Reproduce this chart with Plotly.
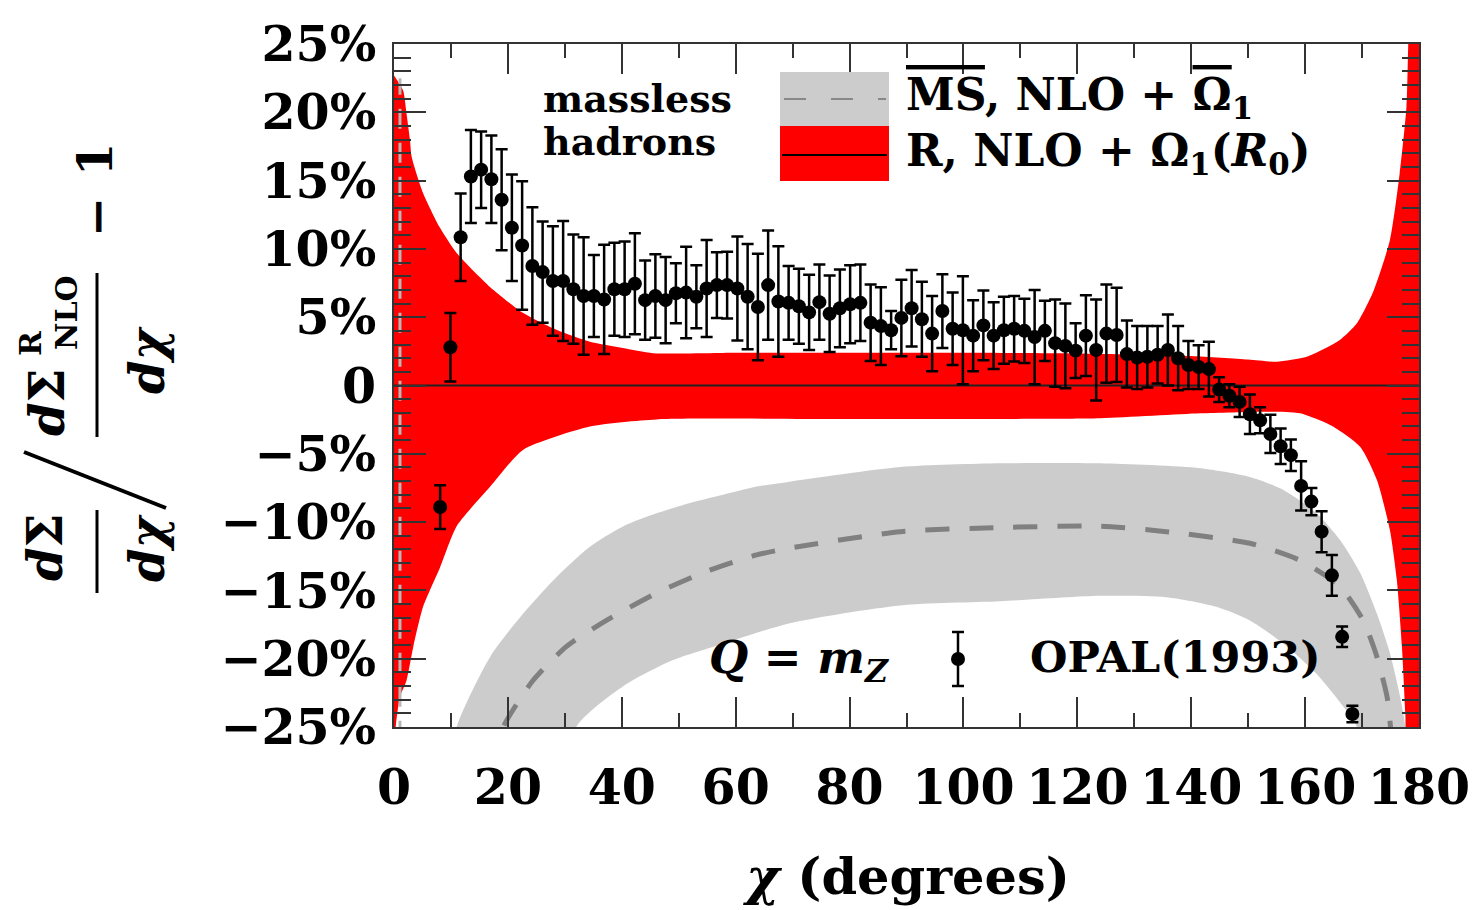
import plotly.graph_objects as go

# The page body has an 8px default margin; work in reference-pixel coordinates
OFF = 8
W, H = 1476 - OFF, 910 - OFF
L, R, T, B = 394, 1419, 44, 727   # plot area in reference pixels

def px(x):
    return (x - L) / (R - L)

def py(y):
    return (B - y) / (B - T)

# ---------------- data ----------------
chi = [8.1, 9.9, 11.7, 13.5, 15.3, 17.1, 18.9, 20.7, 22.5, 24.3,
       26.1, 27.9, 29.7, 31.5, 33.3, 35.1, 36.9, 38.7, 40.5, 42.3,
       44.1, 45.9, 47.7, 49.5, 51.3, 53.1, 54.9, 56.7, 58.5, 60.3,
       62.1, 63.9, 65.7, 67.5, 69.3, 71.1, 72.9, 74.7, 76.5, 78.3,
       80.1, 81.9, 83.7, 85.5, 87.3, 89.1, 90.9, 92.7, 94.5, 96.3,
       98.1, 99.9, 101.7, 103.5, 105.3, 107.1, 108.9, 110.7, 112.5, 114.3,
       116.1, 117.9, 119.7, 121.5, 123.3, 125.1, 126.9, 128.7, 130.5, 132.3,
       134.1, 135.9, 137.7, 139.5, 141.3, 143.1, 144.9, 146.7, 148.5, 150.3,
       152.1, 153.9, 155.7, 157.5, 159.3, 161.1, 162.9, 164.7, 166.5, 168.3]
opal = [-8.9, 2.8, 10.85, 15.3, 15.8, 15.1, 13.6, 11.55, 10.25, 8.75,
        8.3, 7.65, 7.65, 7.05, 6.55, 6.55, 6.3, 7.05, 7.05, 7.45,
        6.25, 6.55, 6.25, 6.75, 6.8, 6.5, 7.1, 7.35, 7.35, 7.1,
        6.5, 5.75, 7.35, 6.15, 6.05, 5.8, 5.35, 6.1, 5.25, 5.65,
        5.95, 6.05, 4.6, 4.35, 4.05, 4.95, 5.65, 4.85, 3.8, 5.45,
        4.15, 4.05, 3.65, 4.4, 3.65, 4.05, 4.15, 4.0, 3.55, 4.0,
        3.1, 2.9, 2.55, 3.65, 2.6, 3.8, 3.7, 2.3, 2.05, 2.1,
        2.25, 2.6, 2.0, 1.5, 1.35, 1.2, -0.3, -0.75, -1.2, -2.1,
        -2.55, -3.55, -4.45, -5.1, -7.35, -8.5, -10.7, -13.9, -18.4, -24.05]
opal_err = [1.6, 2.5, 3.2, 3.4, 2.8, 3.2, 3.7, 3.9, 4.7, 4.3,
            3.7, 4.0, 4.4, 4.0, 4.3, 3.0, 4.0, 3.4, 3.5, 3.7,
            2.9, 3.05, 3.15, 2.2, 3.35, 2.3, 3.55, 2.4, 2.45, 3.8,
            3.85, 3.9, 4.0, 4.05, 2.7, 2.75, 2.75, 2.75, 2.8, 2.85,
            2.85, 2.8, 2.8, 2.85, 1.4, 2.8, 2.8, 2.75, 2.75, 2.7,
            2.65, 3.95, 2.6, 2.55, 2.45, 2.45, 2.4, 2.35, 3.45, 2.2,
            3.2, 3.1, 2.0, 2.95, 3.7, 3.6, 3.45, 2.45, 2.3, 2.25,
            2.1, 2.6, 2.35, 1.75, 1.6, 2.0, 0.9, 0.85, 1.1, 1.45,
            0.95, 1.4, 1.3, 1.15, 1.8, 1.0, 1.5, 1.5, 0.75, 0.6]

# R-scheme band (NLO + Omega1(R0)), relative to R NLO
red_up_x = [0, 1.6, 2.2, 2.8, 3.1, 5.1, 8.0, 11.0, 16.9, 22.7, 28.6, 34.4, 40.2, 45.5,
            60, 80, 100, 120, 140, 150, 155, 160.3, 166.1, 169.1, 171.9, 174.9,
            176.6, 177.8, 178.1, 178.5, 180]
red_up_y = [22.7, 21.6, 19.9, 18.0, 16.75, 14.1, 11.6, 9.7, 7.2, 5.3, 4.06, 3.2, 2.74, 2.36,
            2.4, 2.4, 2.4, 2.35, 2.16, 1.9, 1.74, 2.1, 3.33, 4.55, 6.8, 10.65,
            15.5, 20.4, 24.8, 30, 30]
red_lo_x = [0, 0.3, 1.05, 2.2, 3.4, 5.1, 8.1, 11.0, 16.9, 22.7, 34.4, 46.1, 80, 124,
            141.6, 153.3, 159.1, 164.9, 169.7, 172.6, 174.9, 176.1, 177.0, 177.6, 178.2, 180]
red_lo_y = [-30, -25, -22.8, -21.6, -19.1, -16.2, -13.3, -10.3, -7.4, -4.7, -3.0, -2.48, -2.45, -2.4,
            -2.04, -1.92, -2.04, -3.0, -4.5, -6.9, -10.6, -14.2, -19.1, -24, -30, -30]

# MS-bar band (NLO + Omega1-bar)
gray_up_x = [9.0, 11.0, 16.9, 22.7, 28.6, 34.4, 40.3, 46.1, 52.0, 57.8, 63.7, 69.5, 88.9,
             106.4, 124, 141.6, 150.3, 156.2, 162.0, 166.1, 169.7, 172.6, 174.9, 176.7, 177.6, 178.5]
gray_up_y = [-30, -25, -19.85, -16.7, -14.0, -11.8, -10.3, -9.36, -8.6, -8.0, -7.4, -7.04, -5.97,
             -5.7, -5.7, -6.06, -6.7, -7.65, -9.36, -11.3, -13.75, -16.7, -19.6, -22.8, -25, -30]
gray_lo_x = [29.5, 32.0, 40.3, 49.0, 57.8, 69.5, 88.9, 106.4, 124, 135.6, 144.4, 150.3, 156.2,
             162.0, 166.7, 169.1, 170.5]
gray_lo_y = [-30, -25, -22, -20.1, -18.9, -17.4, -16.1, -15.8, -15.4, -15.5, -16.2, -17.2, -18.9,
             -21.1, -23.5, -25, -30]
dash_x = [17.5, 19.2, 24.4, 30.3, 37.3, 46.1, 54.9, 63.7, 69.5, 88.9, 106, 124, 135.6, 150.3,
          159.1, 166.1, 170.2, 172.6, 174.4, 175.0, 175.6]
dash_y = [-28, -25, -21.6, -19.1, -17.2, -15.2, -13.6, -12.4, -11.9, -10.7, -10.4, -10.3, -10.7,
          -11.55, -12.8, -14.7, -17.2, -19.85, -22.8, -25, -28]
spike_x = [1.05, 1.05]
spike_y = [-26, 22.5]

ytick_vals = [-25, -20, -15, -10, -5, 0, 5, 10, 15, 20, 25]
ytick_text = ["−25%", "−20%", "−15%", "−10%", "−5%", "0", "5%", "10%", "15%", "20%", "25%"]
xtick_vals = [0, 20, 40, 60, 80, 100, 120, 140, 160, 180]
xtick_text = ["0", "20", "40", "60", "80", "100", "120", "140", "160", "180"]

FONT = "DejaVu Serif"
RED = "#ff0000"
GRAY = "#cccccc"
DGRAY = "#808080"

fig = go.Figure()

fig.add_trace(go.Scatter(x=gray_up_x + gray_lo_x[::-1], y=gray_up_y + gray_lo_y[::-1],
                         fill="toself", fillcolor=GRAY, mode="lines",
                         line=dict(width=0, shape="spline", smoothing=0.7),
                         hoverinfo="skip", showlegend=False))
fig.add_trace(go.Scatter(x=red_up_x + red_lo_x[::-1], y=red_up_y + red_lo_y[::-1],
                         fill="toself", fillcolor=RED, mode="lines",
                         line=dict(width=0, shape="spline", smoothing=0.6),
                         hoverinfo="skip", showlegend=False))
fig.add_trace(go.Scatter(x=dash_x, y=dash_y, mode="lines",
                         line=dict(color=DGRAY, width=5, dash="24px,20px", shape="spline", smoothing=0.6),
                         hoverinfo="skip", showlegend=False))
fig.add_trace(go.Scatter(x=spike_x, y=spike_y, mode="lines",
                         line=dict(color="#b8b8b8", width=3, dash="20px,14px"),
                         hoverinfo="skip", showlegend=False))
fig.add_trace(go.Scatter(x=[0, 180], y=[0, 0], mode="lines",
                         line=dict(color="#222222", width=2),
                         hoverinfo="skip", showlegend=False))
fig.add_trace(go.Scatter(x=chi, y=opal, mode="markers",
                         marker=dict(color="black", size=14),
                         error_y=dict(type="data", array=opal_err, color="black",
                                      thickness=2.5, width=6),
                         showlegend=False))

axis_common = dict(
    showgrid=False, zeroline=False, showline=True, linecolor="#333333", linewidth=2,
    mirror="allticks", ticks="inside", tickcolor="#333333", tickwidth=1.5,
    tickfont=dict(family=FONT, size=49, color="black", weight="bold"),
)
fig.update_xaxes(range=[0, 180], tickvals=xtick_vals, ticktext=xtick_text, ticklen=30,
                 minor=dict(ticks="inside", dtick=10, tick0=0, ticklen=14,
                            tickcolor="#333333", tickwidth=1.5),
                 ticklabelstandoff=16, **axis_common)
fig.update_yaxes(range=[-25, 25], tickvals=ytick_vals, ticktext=ytick_text, ticklen=32,
                 minor=dict(ticks="inside", dtick=1, tick0=0, ticklen=17,
                            tickcolor="#333333", tickwidth=1.5),
                 ticklabelstandoff=6, **axis_common)

shapes = []
# legend boxes
shapes.append(dict(type="rect", xref="paper", yref="paper", x0=px(780), x1=px(889),
                   y0=py(126), y1=py(72), fillcolor=GRAY, line=dict(width=0), layer="above"))
shapes.append(dict(type="rect", xref="paper", yref="paper", x0=px(780), x1=px(889),
                   y0=py(181), y1=py(126), fillcolor=RED, line=dict(width=0), layer="above"))
shapes.append(dict(type="line", xref="paper", yref="paper", x0=px(784), x1=px(886),
                   y0=py(99), y1=py(99), line=dict(color="#888888", width=2, dash="22px,25px")))
shapes.append(dict(type="line", xref="paper", yref="paper", x0=px(782), x1=px(887),
                   y0=py(155), y1=py(155), line=dict(color="black", width=2)))
# OPAL legend marker
shapes.append(dict(type="line", xref="paper", yref="paper", x0=px(958), x1=px(958),
                   y0=py(632), y1=py(686), line=dict(color="black", width=2.5)))
for yy in (632, 686):
    shapes.append(dict(type="line", xref="paper", yref="paper", x0=px(952), x1=px(964),
                       y0=py(yy), y1=py(yy), line=dict(color="black", width=2.5)))
shapes.append(dict(type="circle", xref="paper", yref="paper", x0=px(951), x1=px(965),
                   y0=py(666), y1=py(652), fillcolor="black", line=dict(width=0)))
# y-title fraction bars and slash
shapes.append(dict(type="line", xref="paper", yref="paper", x0=px(97), x1=px(97),
                   y0=py(510), y1=py(593), line=dict(color="black", width=3)))
shapes.append(dict(type="line", xref="paper", yref="paper", x0=px(97), x1=px(97),
                   y0=py(273), y1=py(437), line=dict(color="black", width=3)))
shapes.append(dict(type="line", xref="paper", yref="paper", x0=px(24), x1=px(166),
                   y0=py(452), y1=py(508), line=dict(color="black", width=4)))
fig.update_layout(shapes=shapes)

def ann(text, x, y, size, xanchor="center", yanchor="middle", angle=0):
    return dict(text=text, x=px(x), y=py(y), xref="paper", yref="paper", showarrow=False,
                xanchor=xanchor, yanchor=yanchor, textangle=angle,
                font=dict(family=FONT, size=size, color="black", weight="bold"))

annotations = [
    ann("massless", 541, 99, 38, xanchor="left"),
    ann("hadrons", 541, 141, 38, xanchor="left"),
    ann("<span style='text-decoration:overline'>MS</span>, NLO + "
        "<span style='text-decoration:overline'>Ω</span><sub>1</sub>", 904, 97, 44, xanchor="left"),
    ann("R, NLO + Ω<sub>1</sub>(<i>R</i><sub>0</sub>)", 904, 153, 44, xanchor="left"),
    ann("<i>Q</i> = <i>m<sub>Z</sub></i>", 799, 660, 45),
    ann("OPAL(1993)", 1028, 657, 43, xanchor="left"),
    ann("<i>χ</i> (degrees)", 906, 876, 51),
    # y-axis title pieces (rotated)
    ann("<i>d</i>Σ", 45, 547, 48, angle=-90),
    ann("<i>dχ</i>", 147, 548, 48, angle=-90),
    ann("<i>d</i>Σ", 47, 402, 48, angle=-90),
    ann("R", 30, 343, 30, angle=-90),
    ann("NLO", 66, 313, 30, angle=-90),
    ann("<i>dχ</i>", 147, 360, 48, angle=-90),
    ann("−", 97, 217, 48, angle=-90),
    ann("1", 95, 160, 48, angle=-90),
]
fig.update_layout(annotations=annotations)

fig.update_layout(
    width=W, height=H,
    margin=dict(l=L - OFF, r=(W + OFF) - R, t=T - OFF, b=(H + OFF) - B, autoexpand=False),
    paper_bgcolor="white", plot_bgcolor="white",
    showlegend=False,
    font=dict(family=FONT, color="black"),
)

fig.write_html("out.html")
